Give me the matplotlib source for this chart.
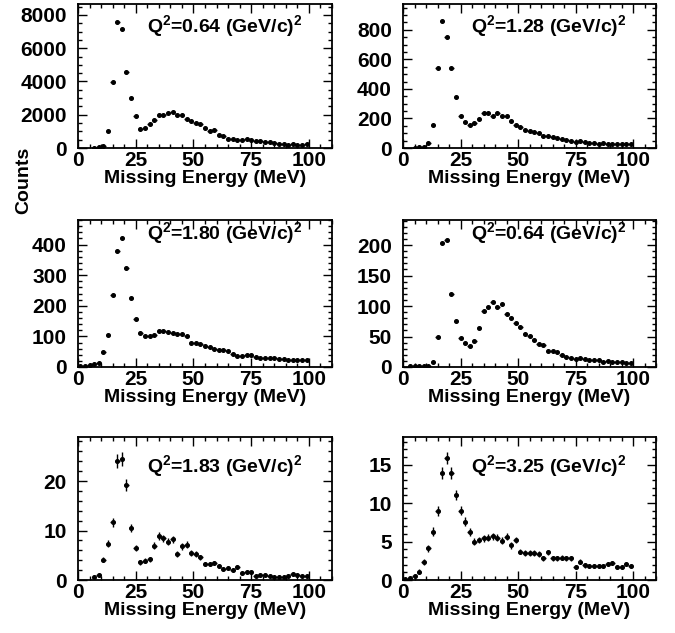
import matplotlib
matplotlib.use("Agg")
import matplotlib.pyplot as plt
from matplotlib.ticker import MultipleLocator
import numpy as np

nan = np.nan

# bin centres of the missing-energy histograms (2 MeV bins)
e_mid = [1, 3, 5, 7, 9, 11, 13, 15, 17, 19, 21, 23, 25, 27, 29, 31, 33, 35, 37, 39,
         41, 43, 45, 47, 49, 51, 53, 55, 57, 59, 61, 63, 65, 67, 69, 71, 73, 75, 77, 79,
         81, 83, 85, 87, 89, 91, 93, 95, 97, 99]

q2_labels = ["0.64", "1.28", "1.80", "0.64", "1.83", "3.25"]

counts_a = [nan, nan, nan, 20, 40, 130, 1030, 3950, 7600, 7150,
            4550, 3000, 1900, 1150, 1180, 1430, 1680, 1960, 1980, 2120,
            2160, 2000, 1980, 1720, 1620, 1520, 1420, 1180, 1010, 1080,
            780, 730, 570, 570, 510, 500, 550, 500, 450, 400,
            380, 360, 300, 240, 220, 210, 220, 210, 210, 220]

counts_b = [nan, nan, 3, 5, 8, 36, 155, 544, 858, 753,
            544, 346, 218, 173, 157, 166, 196, 234, 236, 218,
            236, 218, 218, 184, 157, 144, 121, 112, 106, 99,
            83, 83, 76, 67, 61, 54, 49, 43, 45, 38,
            34, 31, 29, 31, 29, 27, 27, 27, 27, 29]

counts_c = [2, 3, 8, 10, 12, 50, 103, 235, 379, 420,
            324, 224, 156, 112, 101, 100, 105, 117, 119, 115,
            110, 108, 109, 100, 79, 77, 74, 70, 64, 59,
            54, 54, 51, 43, 37, 37, 40, 38, 32, 29,
            29, 29, 28, 26, 25, 24, 24, 23, 22, 23]

counts_d = [nan, 1, 1, 1, 1, 2, 8, 50, 204, 208,
            120, 75, 47, 39, 35, 43, 64, 92, 99, 106,
            98, 103, 87, 80, 72, 66, 54, 51, 44, 38,
            36, 27, 27, 25, 20, 17, 15, 13, 14, 13,
            12, 12, 12, 9, 10, 9, 9, 8, 7, 7]

counts_e = [nan, nan, nan, 0.7, 1.0, 4.1, 7.3, 11.7, 24.0, 24.5,
            19.2, 10.5, 6.5, 3.6, 3.9, 4.2, 6.9, 8.8, 8.4, 7.7,
            8.2, 5.2, 6.8, 7.1, 5.4, 5.2, 4.6, 3.2, 3.2, 3.4,
            2.8, 2.2, 2.4, 2.1, 2.6, 1.4, 1.7, 1.6, 0.8, 1.0,
            1.1, 0.8, 0.7, 0.7, 0.7, 0.9, 1.2, 1.0, 0.8, 0.8]

errs_e = [nan, nan, nan, 0.3, 0.3, 0.5, 0.7, 0.9, 1.4, 1.4,
          1.2, 0.8, 0.6, 0.5, 0.5, 0.5, 0.7, 0.8, 0.7, 0.7,
          0.7, 0.6, 0.7, 0.7, 0.6, 0.6, 0.5, 0.4, 0.4, 0.4,
          0.4, 0.35, 0.35, 0.35, 0.4, 0.3, 0.3, 0.3, 0.25, 0.3,
          0.3, 0.25, 0.25, 0.25, 0.25, 0.3, 0.3, 0.3, 0.25, 0.25]

counts_f = [0.1, 0.25, 0.5, 1.1, 2.3, 4.1, 6.3, 9.0, 13.9, 15.9,
            13.9, 11.0, 9.0, 7.6, 6.2, 5.0, 5.2, 5.4, 5.5, 5.7,
            5.5, 5.1, 5.6, 4.5, 5.2, 3.7, 3.5, 3.5, 3.5, 3.4,
            2.8, 3.6, 2.8, 2.8, 2.9, 2.8, 2.8, 1.7, 2.4, 1.9,
            1.8, 1.8, 1.8, 1.8, 2.1, 2.2, 1.7, 1.7, 2.1, 1.8]

errs_f = [0.1, 0.15, 0.2, 0.3, 0.4, 0.5, 0.55, 0.65, 0.75, 0.8,
          0.75, 0.65, 0.6, 0.55, 0.5, 0.45, 0.45, 0.45, 0.45, 0.45,
          0.45, 0.45, 0.45, 0.45, 0.45, 0.35, 0.35, 0.35, 0.35, 0.35,
          0.35, 0.35, 0.35, 0.35, 0.35, 0.35, 0.35, 0.3, 0.3, 0.3,
          0.3, 0.3, 0.3, 0.3, 0.3, 0.3, 0.3, 0.3, 0.3, 0.3]

series = [(counts_a, None), (counts_b, None), (counts_c, None),
          (counts_d, None), (counts_e, errs_e), (counts_f, errs_f)]

# y range, major and minor tick step for each pad
y_max = [8660, 975, 480, 241, 28.9, 18.6]
y_major = [2000, 200, 100, 50, 10, 5]
y_minor = [500, 50, 20, 10, 2, 1]

plt.rcParams['font.family'] = ['Liberation Sans', 'DejaVu Sans']
plt.rcParams['font.weight'] = 'bold'
plt.rcParams['mathtext.fontset'] = 'custom'
plt.rcParams['mathtext.rm'] = 'Liberation Sans:bold'
plt.rcParams['mathtext.it'] = 'Liberation Sans:bold'
plt.rcParams['mathtext.bf'] = 'Liberation Sans:bold'
plt.rcParams['mathtext.sf'] = 'Liberation Sans:bold'

W, H = 675, 633
fig = plt.figure(figsize=(W / 100, H / 100), dpi=100)

# pad frames in pixels: (left, right) and (top, bottom)
cols = [(78, 332), (403, 656)]
rows = [(4, 148), (220, 367), (437, 580)]
text_y = [0.85, 0.91, 0.80]

for i, (vals, errs) in enumerate(series):
    r, c = divmod(i, 2)
    x0, x1 = cols[c]
    top, bot = rows[r]
    ax = fig.add_axes([x0 / W, 1 - bot / H, (x1 - x0) / W, (bot - top) / H])

    ax.errorbar(e_mid, vals, xerr=1, yerr=errs, fmt='o', ms=2.6, color='black',
                mec='black', elinewidth=1.0, capsize=0)

    ax.set_xlim(0, 110)
    ax.set_ylim(0, y_max[i])
    ax.xaxis.set_major_locator(MultipleLocator(25))
    ax.xaxis.set_minor_locator(MultipleLocator(5))
    ax.yaxis.set_major_locator(MultipleLocator(y_major[i]))
    ax.yaxis.set_minor_locator(MultipleLocator(y_minor[i]))
    ax.tick_params(which='both', direction='in', top=True, right=True, width=1.0)
    ax.tick_params(which='major', length=6.5)
    ax.tick_params(which='minor', length=3.2)
    ax.tick_params(axis='x', labelsize=15, pad=2)
    ax.tick_params(axis='y', labelsize=15, pad=8)
    for sp in ax.spines.values():
        sp.set_linewidth(1.3)

    ax.set_xlabel('Missing Energy (MeV)', fontsize=14, fontweight='bold', labelpad=0)
    ax.text(0.27, text_y[r], 'Q$^{2}$=' + q2_labels[i] + ' (GeV/c)$^{2}$',
            transform=ax.transAxes, fontsize=14, fontweight='bold',
            ha='left', va='center')

fig.text(24 / W, 1 - 180 / H, 'Counts', rotation=90, fontsize=14,
         fontweight='bold', ha='center', va='center')

fig.savefig('out.png', dpi=100)
